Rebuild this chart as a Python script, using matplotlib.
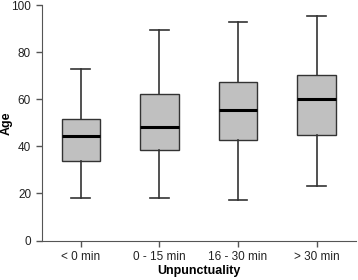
import matplotlib
matplotlib.use("Agg")
import matplotlib.pyplot as plt

plt.rcParams['font.family'] = ['Liberation Sans', 'DejaVu Sans']

# values
categories = ['< 0 min', '0 - 15 min', '16 - 30 min', '> 30 min']
whislo = [18, 18, 17, 23]
q1 = [33.7, 38.4, 42.8, 45]
med = [44.3, 48.3, 55.4, 59.9]
q3 = [51.8, 62.3, 67.4, 70.3]
whishi = [73, 89.6, 92.6, 95.5]

stats = []
for i in range(len(categories)):
    stats.append(dict(label=categories[i], whislo=whislo[i], q1=q1[i], med=med[i],
                      q3=q3[i], whishi=whishi[i], fliers=[]))

fig = plt.figure(figsize=(3.58, 2.8), dpi=100)
ax = fig.add_axes([0.116, 0.141, 0.878, 0.841])

edge = '#333333'
ax.bxp(stats, widths=0.49, showfliers=False, patch_artist=True,
       boxprops=dict(facecolor='#c0c0c0', edgecolor=edge, linewidth=1),
       medianprops=dict(color='black', linewidth=2.2),
       whiskerprops=dict(color=edge, linewidth=1.2),
       capprops=dict(color=edge, linewidth=1.2),
       capwidths=0.24)

ax.set_xlim(0.5, 4.5)
ax.set_ylim(0, 100)
ax.set_yticks([0, 20, 40, 60, 80, 100])
for s in ['top', 'right']:
    ax.spines[s].set_visible(False)
for s in ['left', 'bottom']:
    ax.spines[s].set_color('#555555')
ax.tick_params(axis='both', colors='#555555', labelcolor='#222222', labelsize=8.5,
               length=4, width=1)
ax.set_ylabel('Age', fontsize=9, fontweight='bold')
ax.yaxis.set_label_coords(-0.092, 0.5)
ax.set_xlabel('Unpunctuality', fontsize=9, fontweight='bold', labelpad=1.5)

fig.savefig('out.png', dpi=100)
